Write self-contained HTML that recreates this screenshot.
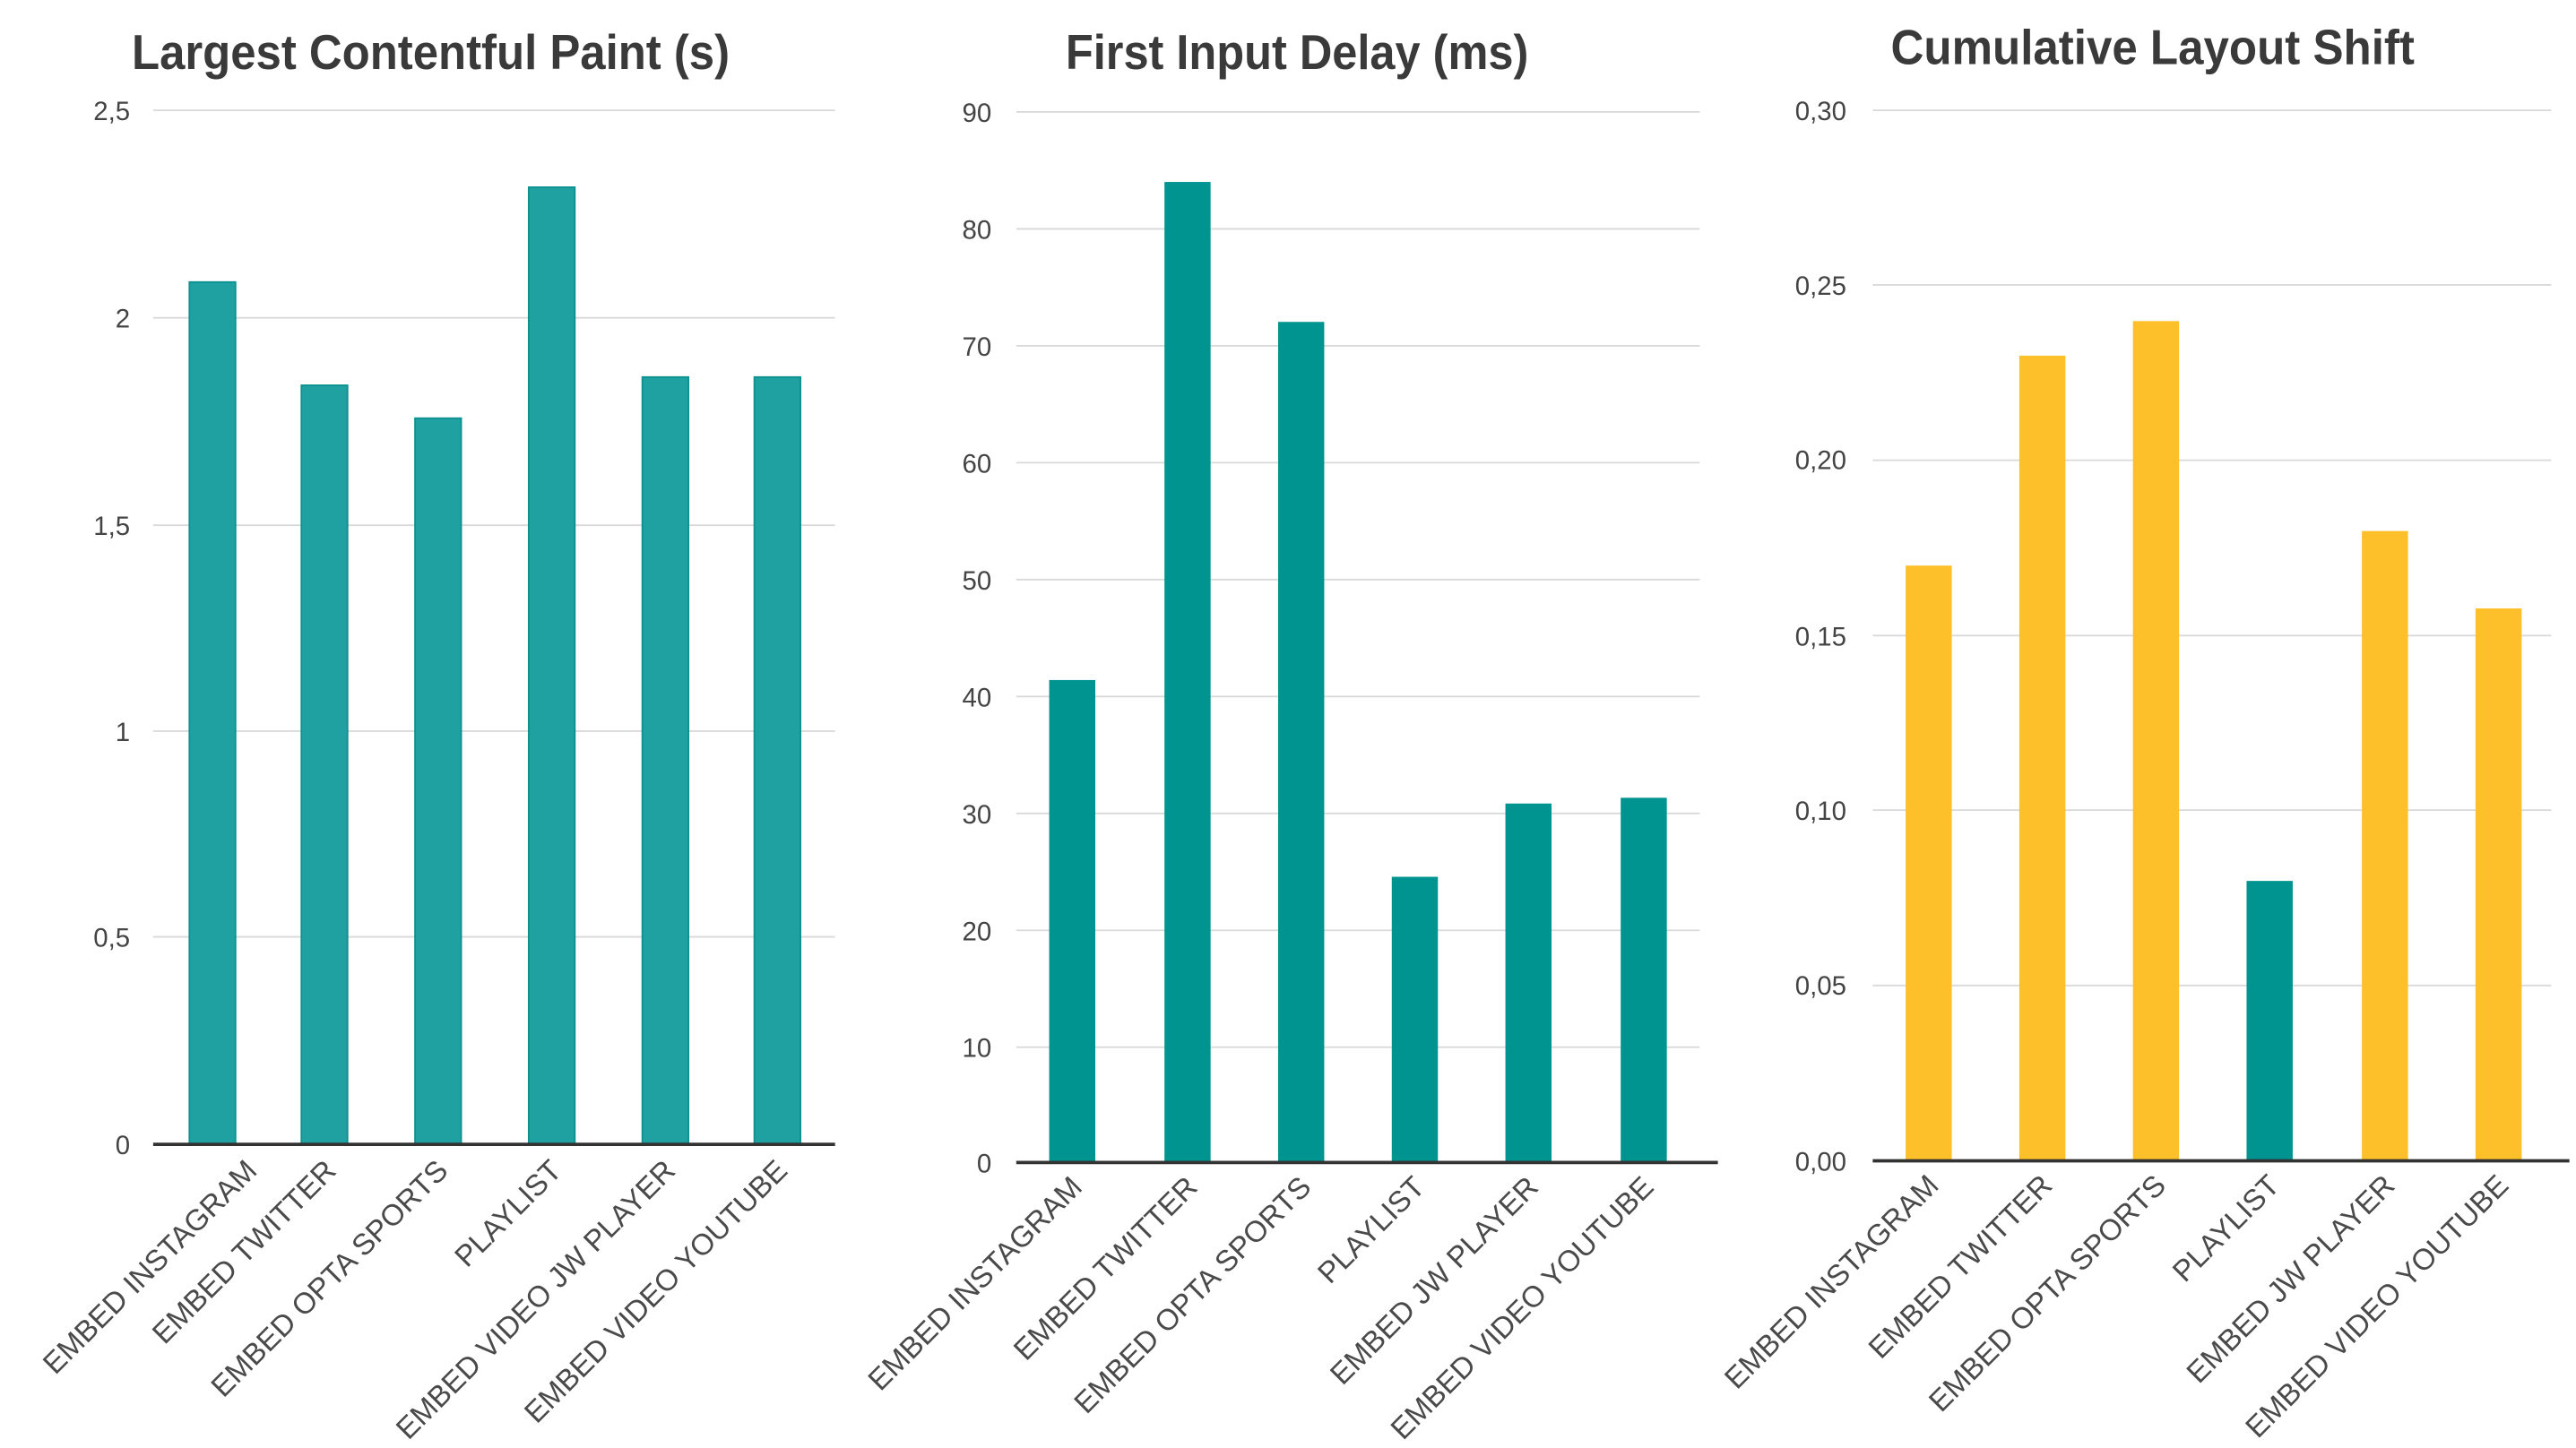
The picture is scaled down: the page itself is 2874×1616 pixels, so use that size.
<!DOCTYPE html>
<html><head><meta charset="utf-8"><style>
html,body{margin:0;padding:0;background:#fff;}
svg{display:block;}
text{font-family:"Liberation Sans",sans-serif;}
.t{font-weight:bold;font-size:30px;fill:#3a3a3a;}
.y{font-size:16px;fill:#444;text-anchor:end;}
.x{font-size:18px;fill:#4a4a4a;text-anchor:end;}
.g{stroke:#d9d9d9;stroke-width:1;}
.a{stroke:#333;stroke-width:2;}
</style></head><body>
<svg width="2874" height="1616" viewBox="0 0 1564 879.4" preserveAspectRatio="none">
<!-- Chart 1 -->
<text class="t" x="80" y="42" textLength="363" lengthAdjust="spacingAndGlyphs">Largest Contentful Paint (s)</text>
<g>
<line class="g" x1="93" x2="507" y1="67" y2="67"/>
<line class="g" x1="93" x2="507" y1="193" y2="193"/>
<line class="g" x1="93" x2="507" y1="319" y2="319"/>
<line class="g" x1="93" x2="507" y1="444" y2="444"/>
<line class="g" x1="93" x2="507" y1="569" y2="569"/>
<text class="y" x="79" y="73">2,5</text>
<text class="y" x="79" y="199">2</text>
<text class="y" x="79" y="325">1,5</text>
<text class="y" x="79" y="450">1</text>
<text class="y" x="79" y="575">0,5</text>
<text class="y" x="79" y="701">0</text>
<g fill="#1fa1a1" stroke="#0e9090" stroke-width="1">
<rect x="115" y="171.3" width="28" height="523.7"/>
<rect x="183" y="234" width="28" height="461"/>
<rect x="252" y="254" width="28" height="441"/>
<rect x="321" y="113.7" width="28" height="581.3"/>
<rect x="390" y="229" width="28" height="466"/>
<rect x="458" y="229" width="28" height="466"/>
</g>
<line class="a" x1="93" x2="507" y1="695" y2="695"/>
<text class="x" transform="translate(157,712) rotate(-45)">EMBED INSTAGRAM</text>
<text class="x" transform="translate(205,712) rotate(-45)">EMBED TWITTER</text>
<text class="x" transform="translate(273,712) rotate(-45)">EMBED OPTA SPORTS</text>
<text class="x" transform="translate(342,712) rotate(-45)">PLAYLIST</text>
<text class="x" transform="translate(411,712) rotate(-45)">EMBED VIDEO JW PLAYER</text>
<text class="x" transform="translate(479,712) rotate(-45)">EMBED VIDEO YOUTUBE</text>
</g>
<!-- Chart 2 -->
<text class="t" x="647" y="42" textLength="281" lengthAdjust="spacingAndGlyphs">First Input Delay (ms)</text>
<g>
<line class="g" x1="617" x2="1032" y1="68" y2="68"/>
<line class="g" x1="617" x2="1032" y1="139" y2="139"/>
<line class="g" x1="617" x2="1032" y1="210" y2="210"/>
<line class="g" x1="617" x2="1032" y1="281" y2="281"/>
<line class="g" x1="617" x2="1032" y1="352" y2="352"/>
<line class="g" x1="617" x2="1032" y1="423" y2="423"/>
<line class="g" x1="617" x2="1032" y1="494" y2="494"/>
<line class="g" x1="617" x2="1032" y1="565" y2="565"/>
<line class="g" x1="617" x2="1032" y1="636" y2="636"/>
<text class="y" x="602" y="74">90</text>
<text class="y" x="602" y="145">80</text>
<text class="y" x="602" y="216">70</text>
<text class="y" x="602" y="287">60</text>
<text class="y" x="602" y="358">50</text>
<text class="y" x="602" y="429">40</text>
<text class="y" x="602" y="500">30</text>
<text class="y" x="602" y="571">20</text>
<text class="y" x="602" y="642">10</text>
<text class="y" x="602" y="712">0</text>
<g fill="#009490">
<rect x="637" y="413" width="28" height="293"/>
<rect x="707" y="110.5" width="28" height="595.5"/>
<rect x="776" y="195.5" width="28" height="510.5"/>
<rect x="845" y="532.5" width="28" height="173.5"/>
<rect x="914" y="488" width="28" height="218"/>
<rect x="984" y="484.5" width="28" height="221.5"/>
</g>
<line class="a" x1="617" x2="1043" y1="706" y2="706"/>
<text class="x" transform="translate(658,722) rotate(-45)">EMBED INSTAGRAM</text>
<text class="x" transform="translate(728,722) rotate(-45)">EMBED TWITTER</text>
<text class="x" transform="translate(797,722) rotate(-45)">EMBED OPTA SPORTS</text>
<text class="x" transform="translate(866,722) rotate(-45)">PLAYLIST</text>
<text class="x" transform="translate(935,722) rotate(-45)">EMBED JW PLAYER</text>
<text class="x" transform="translate(1005,722) rotate(-45)">EMBED VIDEO YOUTUBE</text>
</g>
<!-- Chart 3 -->
<text class="t" x="1148" y="39" textLength="318" lengthAdjust="spacingAndGlyphs">Cumulative Layout Shift</text>
<g>
<line class="g" x1="1137" x2="1549" y1="67" y2="67"/>
<line class="g" x1="1137" x2="1549" y1="173" y2="173"/>
<line class="g" x1="1137" x2="1549" y1="279.5" y2="279.5"/>
<line class="g" x1="1137" x2="1549" y1="386" y2="386"/>
<line class="g" x1="1137" x2="1549" y1="492" y2="492"/>
<line class="g" x1="1137" x2="1549" y1="598.5" y2="598.5"/>
<text class="y" x="1121" y="73">0,30</text>
<text class="y" x="1121" y="179">0,25</text>
<text class="y" x="1121" y="285">0,20</text>
<text class="y" x="1121" y="392">0,15</text>
<text class="y" x="1121" y="498">0,10</text>
<text class="y" x="1121" y="604">0,05</text>
<text class="y" x="1121" y="711">0,00</text>
<g fill="#fdc02a">
<rect x="1157" y="343.5" width="28" height="361.5"/>
<rect x="1226" y="216" width="28" height="489"/>
<rect x="1295" y="195" width="28" height="510"/>
<rect x="1434" y="322.5" width="28" height="382.5"/>
<rect x="1503" y="369.5" width="28" height="335.5"/>
</g>
<rect x="1364" y="535" width="28" height="170" fill="#009490"/>
<line class="a" x1="1137" x2="1560" y1="705" y2="705"/>
<text class="x" transform="translate(1178,721) rotate(-45)">EMBED INSTAGRAM</text>
<text class="x" transform="translate(1247,721) rotate(-45)">EMBED TWITTER</text>
<text class="x" transform="translate(1316,721) rotate(-45)">EMBED OPTA SPORTS</text>
<text class="x" transform="translate(1385,721) rotate(-45)">PLAYLIST</text>
<text class="x" transform="translate(1455,721) rotate(-45)">EMBED JW PLAYER</text>
<text class="x" transform="translate(1524,721) rotate(-45)">EMBED VIDEO YOUTUBE</text>
</g>
</svg>
</body></html>
